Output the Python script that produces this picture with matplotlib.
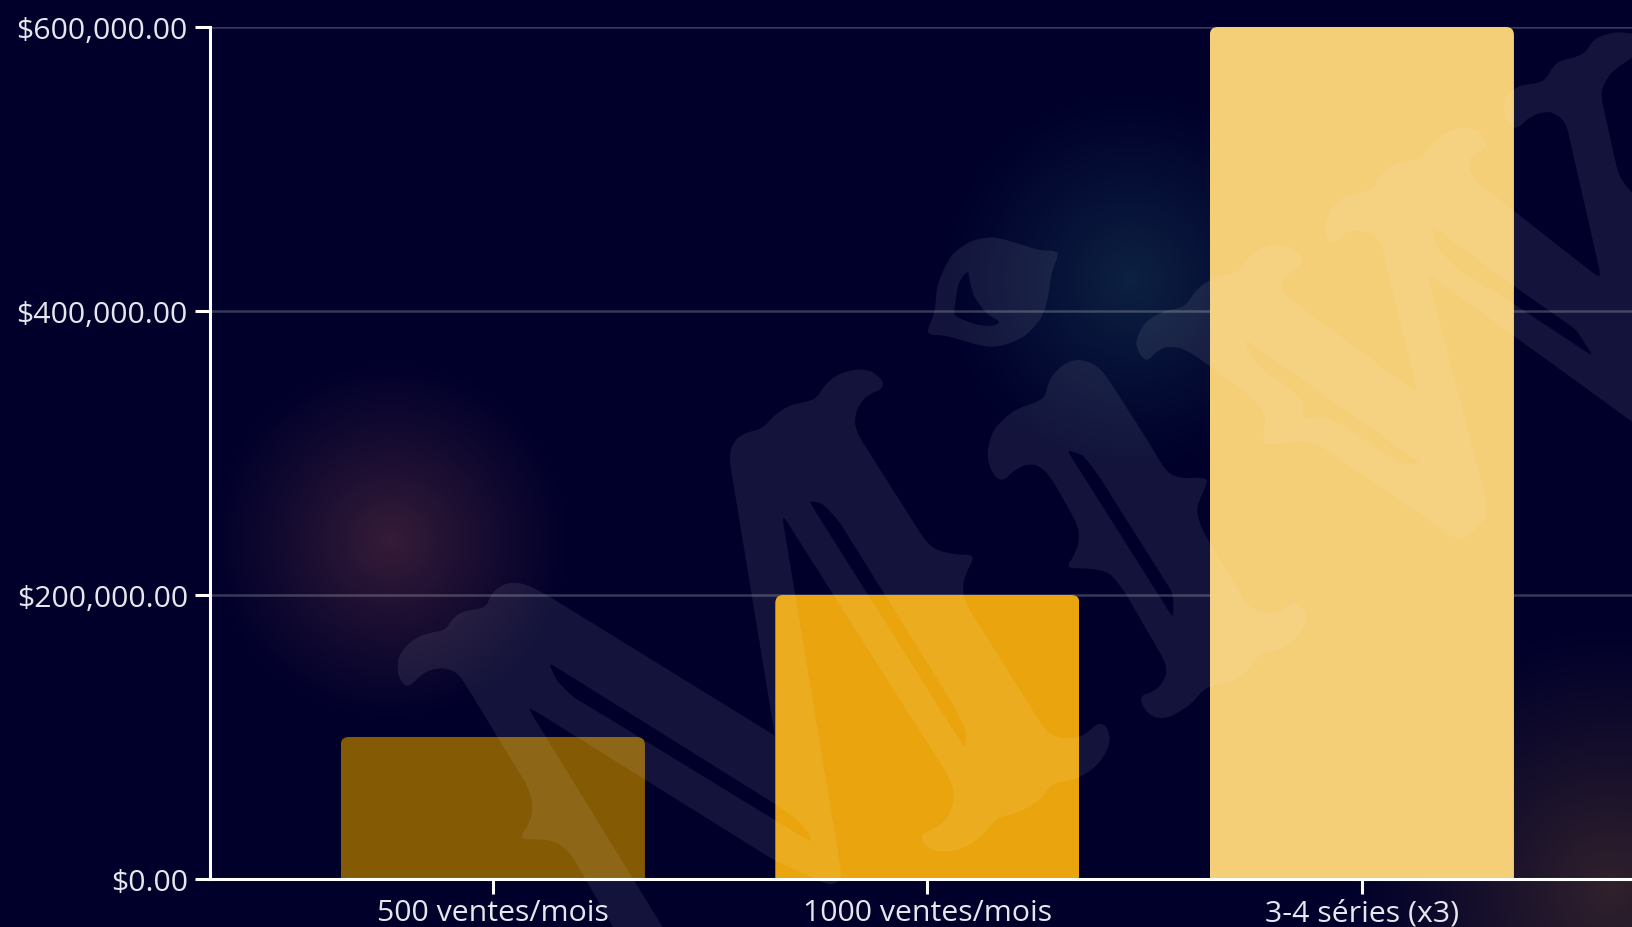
import matplotlib
matplotlib.use("Agg")
import matplotlib.pyplot as plt
import numpy as np
from matplotlib.patches import FancyBboxPatch, PathPatch
from matplotlib.path import Path
from matplotlib.transforms import IdentityTransform

categories = ["500 ventes/mois", "1000 ventes/mois", "3-4 séries (x3)"]
revenue = [100000, 200000, 600000]
bar_colors = ["#845B04", "#EAA50E", "#F5CE78"]
y_ticks = [0, 200000, 400000, 600000]

W, H = 1633, 928
BG = "#00002B"


# crops of the picture -> picture pixels
def crop(ox, oy, sx, sy):
    return lambda pts: [(ox + a / sx, oy + b / sy) for a, b in pts]


z1 = crop(380, 560, 3, 3)
z2 = crop(700, 340, 3, 2.667)
z3 = crop(1100, 20, 2.94, 2.8)
z4 = crop(1090, 440, 3, 3)
z5 = crop(880, 200, 3, 3)

# outlines of the background logo
logo_m = (
    z1([(50, 325), (60, 280), (100, 240), (150, 220), (197, 215), (215, 180), (250, 155), (318, 148),
        (330, 110), (360, 80), (400, 68), (450, 80), (520, 120), (1185, 530)])
    + z2([(225, 1060), (88, 320), (95, 280), (130, 250), (185, 242), (220, 205), (270, 175), (348, 163),
          (370, 125), (420, 90), (490, 78), (535, 95), (558, 130), (510, 145), (480, 170), (462, 210),
          (470, 250), (670, 530), (700, 560), (760, 575), (827, 575), (800, 620), (785, 665), (800, 710),
          (1040, 1050), (1090, 1068), (1150, 1060), (1200, 1018), (1230, 1045), (1228, 1090), (1190, 1140),
          (1130, 1175), (1058, 1183), (1020, 1230), (960, 1262), (888, 1277), (850, 1325), (790, 1360),
          (720, 1370), (675, 1355), (658, 1320), (710, 1305), (750, 1270), (765, 1215), (745, 1165),
          (245, 465), (425, 1430), (420, 1445), (390, 1458)])
    + z1([(1185, 905), (440, 440), (870, 1140), (720, 1140), (570, 880), (530, 848), (480, 840), (415, 842),
          (450, 790), (460, 740), (445, 685), (240, 350), (215, 332), (175, 326), (130, 340), (85, 388), (60, 365)])
)
logo_m_holes = [
    z1([(505, 310), (1185, 735), (1250, 780), (1285, 820), (1297, 852), (640, 450), (580, 415), (530, 365)]),
    z2([(325, 430), (370, 440), (420, 490), (770, 990), (800, 1050), (795, 1092)]),
]
logo_b = (
    z2([(905, 385), (870, 350), (860, 300), (880, 240), (940, 190), (1035, 160), (1045, 110), (1090, 65),
        (1140, 52), (1190, 70), (1220, 100)])
    + z4([(170, 0), (230, 100), (270, 118), (360, 115), (325, 190), (320, 220), (335, 270), (480, 510),
          (540, 528), (585, 510), (615, 480), (650, 520), (650, 550), (620, 600), (560, 635), (500, 648),
          (470, 700), (420, 730), (345, 745), (310, 790), (260, 825), (215, 842), (170, 825), (145, 770),
          (190, 760), (225, 725), (232, 680), (105, 460), (60, 400), (0, 388)])
    + z2([(1095, 612), (1125, 575), (1140, 530), (1130, 490), (1060, 380), (1030, 345), (990, 330), (940, 350)])
)
logo_b_holes = [z2([(1100, 295), (1150, 310), (1200, 370), (1420, 680), (1420, 745)])]
logo_w = z3([(135, 965), (100, 910), (130, 850), (190, 815), (250, 808), (280, 760), (330, 725), (405, 713),
             (440, 660), (510, 628), (570, 640), (605, 688), (560, 705), (530, 735), (540, 770), (935, 1050),
             (825, 620), (790, 595), (745, 590), (710, 605), (685, 635), (655, 590), (680, 530), (720, 495),
             (795, 483), (830, 430), (880, 400), (945, 393), (985, 335), (1050, 305), (1110, 305), (1145, 360),
             (1095, 375), (1080, 410), (1100, 450), (1475, 730), (1370, 290), (1340, 265), (1310, 258),
             (1260, 275), (1220, 315), (1185, 270), (1190, 220), (1230, 185), (1305, 178), (1340, 120),
             (1425, 100), (1450, 55), (1515, 35), (1600, 45), (1600, 85), (1500, 150), (1470, 205), (1525, 440),
             (1600, 530), (1600, 1152), (960, 710), (1135, 1350), (1135, 1400), (1060, 1465), (650, 1195),
             (590, 1180), (475, 1195), (490, 1110), (450, 1060), (320, 970), (260, 930), (215, 915), (170, 925)])
logo_w_holes = [
    z3([(970, 575), (1220, 750), (1400, 870), (1450, 945), (1220, 800), (1050, 700), (990, 640)]),
    z3([(425, 895), (945, 1245), (880, 1245), (700, 1130), (650, 1110), (595, 1125), (600, 1075), (570, 1045),
        (470, 975), (435, 930)]),
]
logo_q = z5([(135, 408), (165, 340), (170, 260), (210, 170), (270, 125), (340, 112), (420, 135), (480, 155),
             (542, 155), (515, 215), (505, 290), (490, 350), (440, 410), (375, 440), (320, 445), (250, 425),
             (190, 408)])
logo_q_holes = [z5([(265, 212), (235, 250), (220, 350), (290, 378), (335, 382), (365, 370), (320, 345),
                    (280, 290), (268, 240)])]


def soften(pts, cut=5, rounds=2):
    # cut the corners a little so the outlines do not look faceted
    p = np.array(pts, dtype=float)
    for _ in range(rounds):
        nxt = np.roll(p, -1, axis=0)
        seg = nxt - p
        ln = np.hypot(seg[:, 0], seg[:, 1])[:, None]
        d = np.minimum(ln * 0.3, cut) / ln
        p = np.column_stack([p + seg * d, nxt - seg * d]).reshape(-1, 2)
    return p


def area(p):
    return 0.5 * np.sum(p[:, 0] * np.roll(p[:, 1], -1) - np.roll(p[:, 0], -1) * p[:, 1])


def glyph(outer, holes):
    verts, codes = [], []
    sign = None
    for i, ring in enumerate([outer] + holes):
        p = soften(ring, cut=5 if i == 0 else 3)
        p[:, 1] = H - p[:, 1]
        if i == 0:
            sign = np.sign(area(p))
        elif np.sign(area(p)) == sign:
            p = p[::-1]
        verts += list(p) + [p[0]]
        codes += [Path.MOVETO] + [Path.LINETO] * (len(p) - 1) + [Path.CLOSEPOLY]
    return Path(verts, codes)


plt.rcParams["font.family"] = ["Open Sans", "DejaVu Sans"]

fig = plt.figure(figsize=(W / 100, H / 100), dpi=100, facecolor=BG)

# soft glows behind the chart
bg_ax = fig.add_axes([0, 0, 1, 1], zorder=0)
bg_ax.set_axis_off()
xx, yy = np.meshgrid(np.arange(W), np.arange(H))
img = np.zeros((H, W, 3))
img[:] = matplotlib.colors.to_rgb(BG)
for cx, cy, r, col in [(390, 541, 185, (0.21, 0.11, 0.05)),
                       (1130, 280, 195, (0.05, 0.13, 0.09)),
                       (1610, 890, 270, (0.19, 0.13, 0.00))]:
    g = np.clip(1 - np.hypot(xx - cx, yy - cy) / r, 0, 1) ** 1.15
    img += g[..., None] * np.array(col)
bg_ax.imshow(np.clip(img, 0, 1), extent=(0, W, H, 0), aspect="auto", interpolation="bilinear")

ax = fig.add_axes([210 / W, (H - 880) / H, (W - 210) / W, 852 / H], zorder=1)
ax.patch.set_alpha(0)

x = np.arange(len(categories))
bars = ax.bar(x, revenue, width=0.70, color=bar_colors, zorder=2)
ax.set_xlim(-0.651, 2.624)
ax.set_ylim(0, 600000)

# rounded corners on the bars
fig.canvas.draw()
for b in bars:
    (x0, y0), (x1, y1) = ax.transData.transform([(b.get_x(), 0), (b.get_x() + b.get_width(), b.get_height())])
    clip = FancyBboxPatch((x0 + 8, y0 - 40), x1 - x0 - 16, y1 - y0 + 32,
                          boxstyle="round,pad=8,rounding_size=8", transform=IdentityTransform())
    b.set_clip_path(clip)

ax.set_xticks(x, categories)
ax.set_yticks(y_ticks, [f"${v:,.2f}" for v in y_ticks])
ax.grid(axis="y", color="white", alpha=0.22, linewidth=1.8, zorder=1)
ax.set_axisbelow(True)
for s in ["top", "right"]:
    ax.spines[s].set_visible(False)
for s in ["left", "bottom"]:
    ax.spines[s].set_color("white")
    ax.spines[s].set_linewidth(2.2)
    ax.spines[s].set_zorder(5)
ax.tick_params(axis="both", colors="white", length=11, width=2.2, labelsize=21.75,
               labelcolor="#E6E6EE")
ax.tick_params(axis="x", pad=3)
ax.tick_params(axis="y", pad=5)

# logo watermark over everything
for outer, holes in [(logo_m, logo_m_holes), (logo_b, logo_b_holes), (logo_w, logo_w_holes), (logo_q, logo_q_holes)]:
    fig.add_artist(PathPatch(glyph(outer, holes), facecolor="white", edgecolor="none", alpha=0.08,
                             transform=IdentityTransform(), zorder=3))

fig.savefig("out.png", dpi=100, facecolor=BG)
